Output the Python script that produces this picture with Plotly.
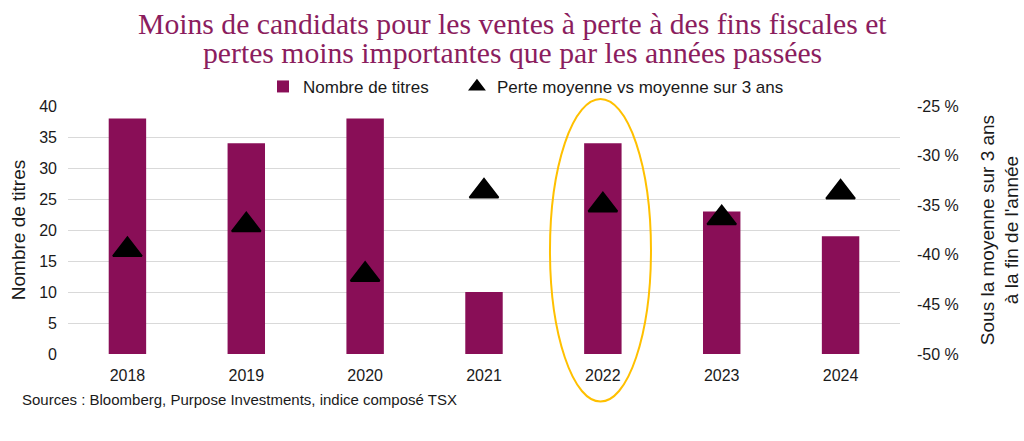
import plotly.graph_objects as go

years = ["2018", "2019", "2020", "2021", "2022", "2023", "2024"]
nombre_titres = [38, 34, 38, 10, 34, 23, 19]
perte_moyenne = [-39.5, -37.0, -42.0, -33.6, -35.0, -36.3, -33.7]

left_ticks = [0, 5, 10, 15, 20, 25, 30, 35, 40]
right_ticks = [-50, -45, -40, -35, -30, -25]
right_tick_labels = ["-50 %", "-45 %", "-40 %", "-35 %", "-30 %", "-25 %"]

title_lines = [
    "Moins de candidats pour les ventes à perte à des fins fiscales et",
    "pertes moins importantes que par les années passées",
]

BAR = "#890E57"
TITLE_C = "#8B1D5E"
FONT = "Liberation Sans, Arial, sans-serif"
TXT = "#1a1a1a"

fig = go.Figure()
fig.add_trace(go.Bar(
    x=years, y=nombre_titres, name="Nombre de titres",
    marker=dict(color=BAR, line=dict(width=0)),
    yaxis="y", legend="legend",
))
fig.add_trace(go.Scatter(
    x=years, y=perte_moyenne, name="Perte moyenne vs moyenne sur 3 ans",
    mode="markers",
    marker=dict(symbol="triangle-up", size=25, color="black",
                line=dict(color="black", width=2)),
    yaxis="y2", legend="legend2",
))

annotations = []
for i, (line, ypos) in enumerate(zip(title_lines, [1.3307, 1.2137])):
    annotations.append(dict(
        text=line, xref="paper", yref="paper", x=0.5, y=ypos,
        xanchor="center", yanchor="middle", showarrow=False,
        xshift=512 - (68 + 832 / 2),
        font=dict(family="Liberation Serif, Times New Roman, serif",
                  size=29.7, color=TITLE_C),
    ))
annotations.append(dict(
    text="Sources : Bloomberg, Purpose Investments, indice composé TSX",
    xref="paper", yref="paper", x=-0.0577, y=-0.185,
    xanchor="left", yanchor="middle", showarrow=False,
    font=dict(size=15, color=TXT),
))

legend_common = dict(
    orientation="h", y=1.077, yanchor="middle", xanchor="left",
    font=dict(size=17, color=TXT), itemsizing="constant",
    bgcolor="rgba(0,0,0,0)",
)

fig.update_layout(
    width=1024, height=441,
    margin=dict(l=68, r=124, t=106, b=87, autoexpand=False),
    paper_bgcolor="white", plot_bgcolor="white",
    font=dict(family=FONT, size=16, color=TXT),
    bargap=0.685,
    showlegend=True,
    legend=dict(x=0.2344, **legend_common),
    legend2=dict(x=0.4675, **legend_common),
    xaxis=dict(
        type="category", showgrid=False, showline=False, zeroline=False,
        ticks="", tickfont=dict(size=16), ticklabelstandoff=10,
        automargin=False,
    ),
    yaxis=dict(
        range=[0, 40], tickvals=left_ticks, showgrid=True,
        gridcolor="#D9D9D9", gridwidth=1, zeroline=False, showline=False,
        ticks="", tickfont=dict(size=16), ticklabelstandoff=10,
        title=dict(text="Nombre de titres", font=dict(size=19), standoff=8),
        automargin=False,
    ),
    yaxis2=dict(
        range=[-50, -25], tickvals=right_ticks, ticktext=right_tick_labels,
        overlaying="y", side="right", showgrid=False, zeroline=False,
        showline=False, ticks="", tickfont=dict(size=16), ticklabelstandoff=16,
        title=dict(text="Sous la moyenne sur 3 ans<br>à la fin de l'année",
                   font=dict(size=19), standoff=22),
        automargin=False,
    ),
    shapes=[dict(
        type="circle", xref="paper", yref="paper",
        x0=0.5793, x1=0.7007, y0=-0.192, y1=1.028,
        line=dict(color="#FFC000", width=2), fillcolor="rgba(0,0,0,0)",
        layer="above",
    )],
    annotations=annotations,
)

fig.write_html("out.html")
